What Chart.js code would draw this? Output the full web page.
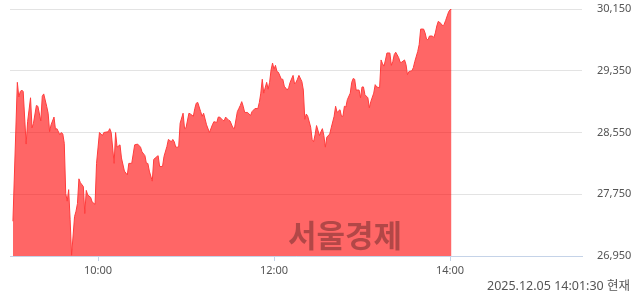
<!DOCTYPE html>
<html>
<head>
<meta charset="utf-8">
<script src="https://cdn.jsdelivr.net/npm/chart.js@4"></script>
<style>
	html, body { margin: 0; padding: 0; background: #fff; }
	#wrap { position: relative; width: 640px; height: 294px; }
	#stamp {
		position: absolute; right: 10px; top: 277px;
		font: 12.5px "Noto Sans", "Noto Sans CJK KR", sans-serif; color: #555;
		line-height: 18px;
	}
	#mark {
		position: absolute; left: 288px; top: 211px;
		font: bold 31px "Noto Sans CJK KR", sans-serif; color: rgba(0, 0, 0, 0.3);
		letter-spacing: 0px; pointer-events: none;
	}
</style>
</head>
<body>
<div id="wrap">
	<canvas id="chart" width="640" height="294"></canvas>
	<div id="mark">서울경제</div>
	<div id="stamp">2025.12.05 14:01:30 현재</div>
</div>
<script>
// minutes after 09:00
const minutes = [
	2, 5, 6, 7, 8, 9, 11, 12, 14, 15, 16, 18, 19, 21, 22, 23, 25, 26, 27, 28,
	30, 31, 32, 34, 35, 36, 37, 38, 39, 40, 41, 42, 44, 45, 46, 47, 48, 50, 51, 52,
	53, 55, 56, 58, 59, 60, 61, 63, 64, 67, 68, 69, 71, 72, 73, 75, 76, 78, 80, 81,
	83, 85, 87, 89, 90, 92, 93, 94, 95, 97, 98, 99, 101, 102, 104, 105, 107, 108, 110, 111,
	112, 113, 115, 116, 118, 119, 120, 122, 123, 125, 126, 127, 128, 130, 131, 132, 134, 136, 138, 139,
	141, 142, 143, 145, 146, 147, 149, 150, 152, 153, 155, 156, 157, 158, 159, 160, 162, 164, 165, 167,
	169, 170, 171, 172, 173, 175, 176, 177, 178, 179, 180, 181, 182, 183, 185, 186, 187, 189, 190, 191,
	193, 194, 195, 196, 197, 199, 200, 201, 202, 203, 205, 206, 207, 208, 209, 211, 212, 213, 214, 215,
	216, 218, 219, 221, 222, 223, 225, 226, 227, 228, 229, 230, 232, 233, 234, 235, 236, 238, 239, 240,
	241, 242, 244, 245, 246, 248, 249, 250, 252, 253, 254, 255, 256, 257, 259, 260, 261, 262, 263, 265,
	266, 267, 269, 270, 271, 272, 274, 275, 276, 278, 279, 280, 282, 283, 284, 285, 286, 288, 289, 290,
	291, 292, 294, 295, 296, 297, 299, 300, 301
];
const prices = [
	27400, 29200, 29010, 29080, 29100, 29080, 28400, 28690, 29000, 28610, 28670, 28900, 28890, 28700, 29020, 29050, 28890, 28800, 28560, 28650,
	28750, 28590, 28600, 28520, 28550, 28530, 28410, 27760, 27660, 27810, 27420, 26960, 27460, 27530, 27630, 27950, 27900, 27850, 27500, 27800,
	27740, 27710, 27650, 27620, 28150, 28350, 28550, 28510, 28550, 28560, 28600, 28550, 28150, 28550, 28360, 28390, 28220, 28050, 28000, 28150,
	28150, 28390, 28400, 28360, 28300, 28250, 28150, 28150, 28050, 27920, 28200, 28220, 28250, 28110, 28110, 28240, 28370, 28460, 28430, 28460,
	28430, 28360, 28360, 28670, 28800, 28600, 28610, 28800, 28790, 28760, 28860, 28930, 28940, 28820, 28760, 28800, 28650, 28550, 28650, 28690,
	28680, 28750, 28750, 28710, 28700, 28750, 28710, 28700, 28610, 28600, 28820, 28860, 28900, 28950, 28890, 28810, 28810, 28770, 28820, 28860,
	28860, 28940, 29060, 29240, 29060, 29200, 29110, 29200, 29360, 29450, 29370, 29420, 29340, 29330, 29240, 29240, 29150, 29100, 29130, 29200,
	29290, 29180, 29200, 29240, 29290, 29210, 29100, 28720, 28790, 28760, 28620, 28460, 28430, 28520, 28640, 28510, 28560, 28600, 28510, 28360,
	28490, 28530, 28610, 28760, 28890, 28810, 28845, 28760, 28760, 28890, 28880, 28975, 29060, 29200, 29250, 29240, 29100, 29100, 29000, 29140,
	29140, 29040, 29000, 28870, 28950, 29060, 29170, 29140, 29130, 29490, 29440, 29410, 29490, 29580, 29580, 29420, 29470, 29560, 29590, 29520,
	29460, 29460, 29490, 29430, 29300, 29340, 29350, 29390, 29470, 29600, 29690, 29890, 29890, 29840, 29760, 29750, 29800, 29800, 29780, 29840,
	29930, 29990, 29960, 29930, 29950, 30000, 30110, 30140, 30150
];
const timeTicks = [60, 180, 300];
const yMin = 26950;
const yMax = 30150;
const yStep = 800;

const fmtTime = (m) => {
	const h = 9 + Math.floor(m / 60);
	const mm = m % 60;
	return (h < 10 ? "0" : "") + h + ":" + (mm < 10 ? "0" : "") + mm;
};

const ctx = document.getElementById("chart");
new Chart(ctx, {
	type: "line",
	data: {
		datasets: [
			{
				data: minutes.map((m, i) => ({ x: m, y: prices[i] })),
				borderColor: "#ff3c3c",
				borderWidth: 1,
				backgroundColor: "rgba(255, 0, 0, 0.6)",
				fill: "start",
				pointRadius: 0,
				tension: 0,
			},
		],
	},
	options: {
		responsive: false,
		animation: false,
		layout: {
			padding: { left: 10, right: 0, top: 9, bottom: 0 },
		},
		plugins: {
			legend: { display: false },
			tooltip: { enabled: false },
		},
		scales: {
			x: {
				type: "linear",
				min: 0,
				max: 390,
				afterBuildTicks: (axis) => {
					axis.ticks = timeTicks.map((v) => ({ value: v }));
				},
				afterFit: (scale) => {
					scale.height = 38;
				},
				ticks: {
					color: "#555",
					font: { family: "Noto Sans", size: 11 },
					padding: 3,
					maxRotation: 0,
					callback: (v) => fmtTime(v),
				},
				grid: {
					drawOnChartArea: false,
					drawTicks: true,
					tickLength: 5,
					color: "#c5d3e8",
				},
				border: { color: "#c5d3e8" },
			},
			y: {
				position: "right",
				min: yMin,
				max: yMax,
				afterBuildTicks: (axis) => {
					const t = [];
					for (let v = yMin; v <= yMax; v += yStep) t.push({ value: v });
					axis.ticks = t;
				},
				afterFit: (scale) => {
					scale.width = 58;
				},
				ticks: {
					color: "#555",
					font: { family: "Noto Sans", size: 11 },
					padding: 0,
					callback: (v) => v.toLocaleString("en-US"),
				},
				grid: {
					drawTicks: true,
					tickLength: 15,
					tickColor: "rgba(0, 0, 0, 0)",
					color: "#e3e3e3",
				},
				border: { display: false },
			},
		},
	},
});
</script>
</body>
</html>
